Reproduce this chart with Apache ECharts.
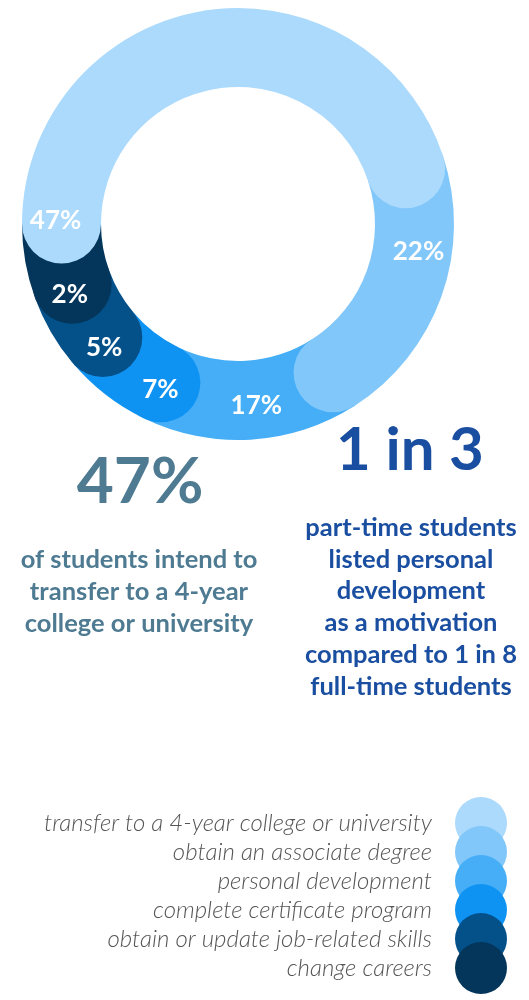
<!DOCTYPE html>
<html><head><meta charset="utf-8">
<script src="https://cdn.jsdelivr.net/npm/echarts@6/dist/echarts.min.js"></script>
<style>html,body{margin:0;padding:0;background:#fff}#c{width:529px;height:1000px}</style>
</head><body><div id="c"></div>
<script>
// ---- data ----
const categories = [
  'transfer to a 4-year college or university',
  'obtain an associate degree',
  'personal development',
  'complete certificate program',
  'obtain or update job-related skills',
  'change careers'
];
const shares = [47, 22, 17, 7, 5, 2];
const shareLabels = ['47%', '22%', '17%', '7%', '5%', '2%'];
const leftHeadline = '47%';
const leftText = ['of students intend to', 'transfer to a 4-year', 'college or university'];
const rightHeadline = '1 in 3';
const rightText = ['part-time students', 'listed personal', 'development', 'as a motivation', 'compared to 1 in 8', 'full-time students'];

// ---- style ----
const colors = ['#ABDAFC', '#82C7FA', '#45AEF7', '#0F93F3', '#045089', '#04365B'];
const layer = [5, 2, 1, 2, 3, 4]; // which segment's round end lies on top at a joint
const FONT = 'Lato, "Open Sans", sans-serif';

const chart = echarts.init(document.getElementById('c'), null, {renderer: 'canvas'});
chart.setOption({
  animation: false,
  backgroundColor: '#fff',
  legend: {
    orient: 'vertical',
    right: 22,
    top: 797,
    padding: 0,
    align: 'right',
    itemWidth: 58,
    itemHeight: 52,
    itemGap: -23,
    selectedMode: false,
    icon: 'path://M0 50A50 50 0 1 1 100 50A50 50 0 1 1 0 50Z',
    data: categories,
    textStyle: {fontFamily: FONT, fontStyle: 'italic', fontWeight: 300, fontSize: 24, color: '#555', padding: [6, 15, 0, 0]}
  },
  series: [{
    type: 'pie',
    center: [238, 224],
    radius: [137, 216],
    startAngle: 180,
    clockwise: true,
    minAngle: 20,
    silent: true,
    label: {show: false},
    labelLine: {show: false},
    emphasis: {disabled: true},
    data: categories.map((n, i) => ({name: n, value: shares[i], itemStyle: {color: colors[i]}}))
  }]
});

// round ends and labels, placed from the pie's own layout
const sData = chart.getModel().getSeriesByIndex(0).getData();
const n = shares.length;
const lays = [];
for (let i = 0; i < n; i++) lays.push(sData.getItemLayout(i));
const cx = lays[0].cx, cy = lays[0].cy, r = lays[0].r, r0 = lays[0].r0;
const mid = (r + r0) / 2, capR = (r - r0) / 2, capA = capR / mid;
const graphics = [];
const caps = [];
for (let i = 0; i < n; i++) {
  const j = (i + 1) % n;
  const owner = layer[i] > layer[j] ? i : j;
  caps.push({owner, a: lays[i].endAngle});
}
caps.sort((p, q) => layer[p.owner] - layer[q.owner]);
caps.forEach((c, k) => {
  graphics.push({type: 'circle', z: 10 + k, silent: true,
    shape: {cx: cx + mid * Math.cos(c.a), cy: cy + mid * Math.sin(c.a), r: capR},
    style: {fill: colors[c.owner]}});
});
for (let i = 0; i < n; i++) {
  const p = (i - 1 + n) % n, q = (i + 1) % n;
  const ownStart = layer[i] > layer[p];
  const ownEnd = layer[i] > layer[q];
  const vs = lays[i].startAngle + (ownStart ? -capA : capA);
  const ve = lays[i].endAngle + (ownEnd ? capA : -capA);
  const ang = vs + Math.min((ve - vs) / 2, 14 * Math.PI / 180);
  const rr = mid + 6;
  graphics.push({type: 'text', z: 30, silent: true,
    style: {text: shareLabels[i], x: cx + rr * Math.cos(ang), y: cy + rr * Math.sin(ang),
      align: 'center', verticalAlign: 'middle', fill: '#fff',
      font: 'bold 26px ' + FONT}});
}
// text blocks
graphics.push({type: 'text', z: 30, style: {text: leftHeadline, x: 140, y: 482, align: 'center', verticalAlign: 'middle', fill: '#4E7B92', font: 'bold 64px ' + FONT}});
graphics.push({type: 'text', z: 30, style: {text: leftText.join('\n'), x: 139, y: 592, align: 'center', verticalAlign: 'middle', fill: '#4E7B92', lineHeight: 32, font: 'bold 25.5px ' + FONT}});
graphics.push({type: 'text', z: 30, style: {text: rightHeadline, x: 410, y: 451, align: 'center', verticalAlign: 'middle', fill: '#1A4EA0', font: 'bold 60px ' + FONT}});
graphics.push({type: 'text', z: 30, style: {text: rightText.join('\n'), x: 411, y: 607, align: 'center', verticalAlign: 'middle', fill: '#1A4EA0', lineHeight: 31.8, font: 'bold 25.5px ' + FONT}});
chart.setOption({graphic: graphics});
</script></body></html>
